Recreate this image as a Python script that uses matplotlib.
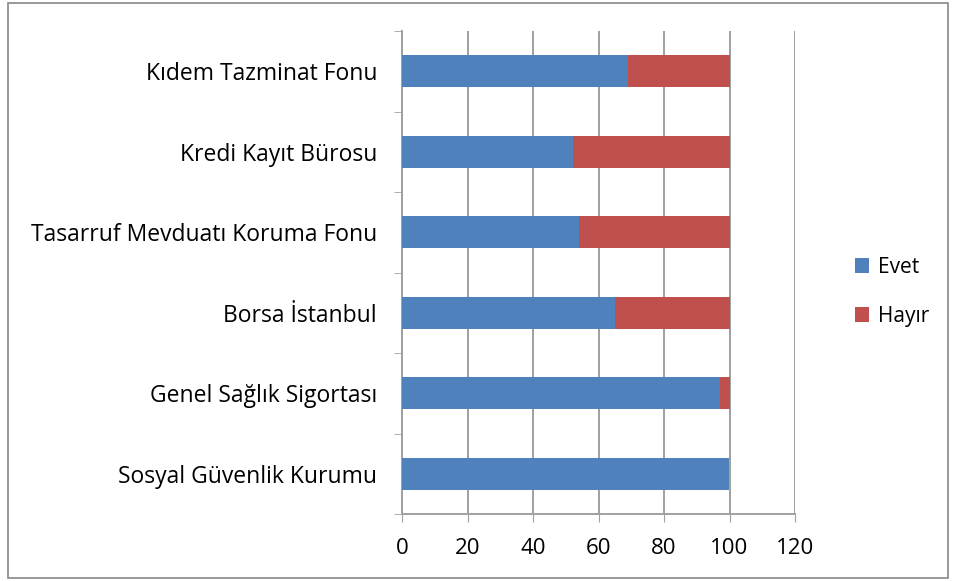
import matplotlib.pyplot as plt
from matplotlib.patches import Rectangle

plt.rcParams['font.family'] = ['Open Sans', 'DejaVu Sans']

categories = ['Sosyal Güvenlik Kurumu', 'Genel Sağlık Sigortası', 'Borsa İstanbul',
              'Tasarruf Mevduatı Koruma Fonu', 'Kredi Kayıt Bürosu', 'Kıdem Tazminat Fonu']
evet = [99.7, 97, 65, 54, 52.2, 69]
hayir = [0.3, 3, 35, 46, 47.8, 31]
xticks = [0, 20, 40, 60, 80, 100, 120]

BLUE = '#4f81bd'
RED = '#c0504d'
GRID = '#a0a0a0'

fig = plt.figure(figsize=(9.57, 5.81), dpi=100)
ax = fig.add_axes([402/957, 67/581, 393/957, 483/581])

y = list(range(len(categories)))
ax.barh(y, evet, height=0.4, color=BLUE, label='Evet', zorder=3)
ax.barh(y, hayir, left=evet, height=0.4, color=RED, label='Hayır', zorder=3)

ax.set_xlim(0, 120)
ax.set_ylim(-0.5, len(categories) - 0.5)
ax.set_xticks(xticks)
ax.set_yticks(y)
ax.set_yticklabels(categories)
ax.set_yticks([i - 0.5 for i in range(len(categories) + 1)], minor=True)
ax.tick_params(axis='y', which='major', length=0, pad=18, labelsize=16.5)
ax.tick_params(axis='y', which='minor', length=6, color=GRID, direction='out')
ax.tick_params(axis='x', length=6, color=GRID, labelsize=16, pad=11)
ax.grid(axis='x', color=GRID, linewidth=1.4, zorder=0)

for s in ['top', 'right']:
    ax.spines[s].set_visible(False)
for s in ['left', 'bottom']:
    ax.spines[s].set_color(GRID)
    ax.spines[s].set_linewidth(1.4)

h, l = ax.get_legend_handles_labels()
fig.legend(h, l, loc='center left', bbox_to_anchor=(836/957, 1 - 292/581),
           frameon=False, fontsize=15, handlelength=0.7, handleheight=0.7,
           handletextpad=0.4, labelspacing=1.35)

fig.patches.append(Rectangle((8/957, 3/581), 940/957, 575/581, transform=fig.transFigure,
                             fill=False, edgecolor='#888888', linewidth=1.2))

plt.savefig('out.png', dpi=100)
